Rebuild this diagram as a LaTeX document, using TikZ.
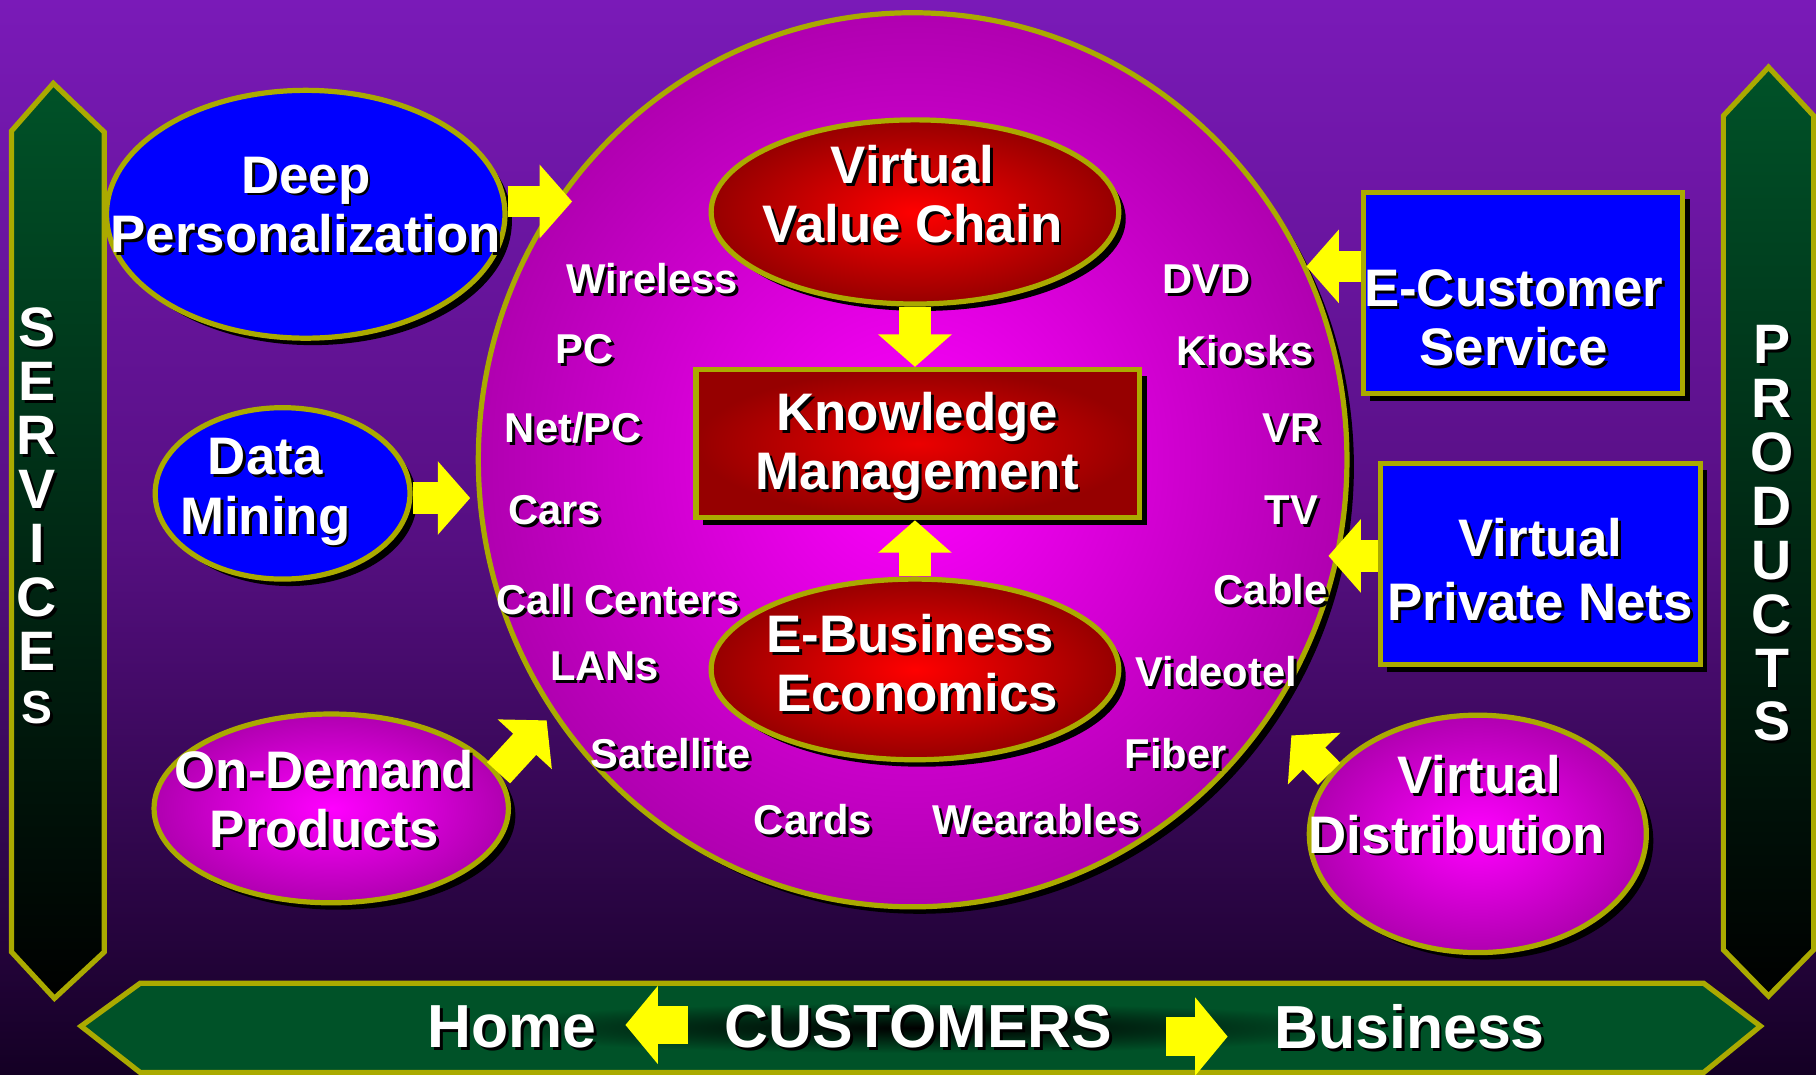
\documentclass[tikz,border=0pt]{standalone}
\usepackage{fontspec}
\setmainfont{Liberation Sans}
\usetikzlibrary{shapes.geometric,arrows.meta,shadows}

\definecolor{olv}{RGB}{170,170,0}
\definecolor{bgtop}{RGB}{122,26,184}
\definecolor{bgmid}{RGB}{86,15,130}
\definecolor{bgbot}{RGB}{20,0,36}
\definecolor{grn}{RGB}{0,82,40}
\definecolor{mag}{RGB}{255,0,255}
\definecolor{magout}{RGB}{176,0,176}
\definecolor{redin}{RGB}{255,0,0}
\definecolor{redout}{RGB}{150,0,0}
\definecolor{yel}{RGB}{255,255,0}

\pgfdeclareradialshading{barshade}{\pgfpoint{0bp}{0bp}}{color(0bp)=(black); color(14bp)=(grn); color(50bp)=(grn)}

\newcommand\txtsh[1]{\leavevmode\rlap{\kern2.5pt\raisebox{-2.5pt}{\textcolor{black}{#1}}}#1}

\begin{document}
\begin{tikzpicture}[x=1pt,y=-1pt,
  bord/.style={draw=olv,line width=4.5pt},
  shad/.style={drop shadow={shadow xshift=6pt,shadow yshift=-6pt,fill=black,opacity=1}},
  lblbig/.style={font=\fontsize{45.6pt}{51pt}\selectfont\bfseries,text=white,align=center,inner sep=0pt},
  lblsmall/.style={font=\fontsize{36pt}{40pt}\selectfont\bfseries,text=white,inner sep=0pt},
  lblbar/.style={font=\fontsize{52.5pt}{56pt}\selectfont\bfseries,text=white,inner sep=0pt},
  lblcol/.style={font=\fontsize{48pt}{46.5pt}\selectfont\bfseries,text=white,align=center,inner sep=0pt},
  blk/.style={draw=yel,line width=27pt,-{Triangle[length=28pt,width=62pt]}},
  blkbar/.style={draw=yel,line width=33pt,-{Triangle[length=28pt,width=66pt]}},
  redell/.style={ellipse,bord,shad,shade,inner color=redin,outer color=redout,inner sep=0pt},
  magell/.style={ellipse,bord,shad,shade,inner color=mag,outer color=magout,inner sep=0pt},
  blueell/.style={ellipse,bord,shad,fill=blue,inner sep=0pt},
  bluebox/.style={rectangle,bord,shad,fill=blue,inner sep=0pt}
]
\useasboundingbox (0,0) rectangle (1568,928);
\shade[top color=bgtop, bottom color=bgbot, middle color=bgmid] (0,0) rectangle (1568,928);

% side and bottom bars
\draw[bord, top color=grn, bottom color=black, line join=miter] (10,113) -- (46,72) -- (90,114) -- (90,822) -- (47,862) -- (10,822) -- cycle;
\draw[bord, top color=grn, bottom color=black, line join=miter] (1488,100) -- (1527,58) -- (1566,100) -- (1566,820) -- (1527,860) -- (1488,820) -- cycle;
\draw[bord, shade, shading=barshade, line join=miter] (70,886) -- (121,849) -- (1471,849) -- (1520,886) -- (1471,926) -- (121,926) -- cycle;

% hub circle
\node[magell, minimum width=750pt, minimum height=772pt] (hub) at (788,397) {};

% outer shapes
\node[blueell, minimum width=344pt, minimum height=214pt] (dp) at (264,185) {};
\node[blueell, minimum width=220pt, minimum height=148pt] (dm) at (244,426) {};
\node[magell, minimum width=306pt, minimum height=163pt] (od) at (286,698) {};
\node[bluebox, minimum width=276pt, minimum height=174pt] (ecs) at (1315,253) {};
\node[bluebox, minimum width=276pt, minimum height=174pt] (vpn) at (1330,487) {};
\node[magell, minimum width=291pt, minimum height=205pt] (vd) at (1276,720) {};

% inner shapes
\node[redell, minimum width=352pt, minimum height=159pt] (vvc) at (790,183) {};
\node[rectangle, bord, shad, shade, inner color=red!92!black, outer color=redout, minimum width=383pt, minimum height=128pt, inner sep=0pt] (km) at (792.5,383) {};
\node[redell, minimum width=352pt, minimum height=156pt] (eb) at (790,578) {};

% arrows
\coordinate (t1) at (494,174);
\coordinate (t2) at (406,430);
\coordinate (t3) at (472,622);
\coordinate (t6) at (1128,230);
\coordinate (t7) at (1147,480);
\coordinate (t8) at (1115,635);
\draw[blk] (dp.east |- t1) -- (t1);
\draw[blk] (dm.east |- t2) -- (t2);
\draw[blk] (od.12) -- (t3);
\draw[blk] (vvc.south) -- (vvc.south |- km.north);
\draw[blk] (eb.north) -- (eb.north |- km.south);
\draw[blk] (ecs.west |- t6) -- (t6);
\draw[blk] (vpn.west |- t7) -- (t7);
\draw[blk] (vd.158) -- (t8);
\coordinate (h1) at (594,885);
\coordinate (h2) at (540,885);
\coordinate (b1) at (1007,895);
\coordinate (b2) at (1060,895);
\draw[blkbar] (h1) -- (h2);
\draw[blkbar] (b1) -- (b2);

% big labels
\node[lblbig] (dpt) at (264,178) {\txtsh{Deep}\\\txtsh{Personalization}};
\node[lblbig] (dmt) at (229,426) {\txtsh{Data}\\\txtsh{Mining}};
\node[lblbig] (odt) at (280,691) {\txtsh{On-Demand}\\\txtsh{Products}};
\node[lblbig] (vvct) at (788,169) {\txtsh{Virtual}\\\txtsh{Value Chain}};
\node[lblbig] (kmt) at (792,387) {\txtsh{Knowledge}\\\txtsh{Management}};
\node[lblbig] (ebt) at (792,574) {\hspace*{-12pt}\txtsh{E-Business}\\\txtsh{Economics}};
\node[lblbig] (ecst) at (1307,276) {\txtsh{E-Customer}\\\txtsh{Service}};
\node[lblbig, font=\fontsize{45.6pt}{55pt}\selectfont\bfseries] (vpnt) at (1330,493) {\txtsh{Virtual}\\\txtsh{Private Nets}};
\node[lblbig] (vdt) at (1258,696) {\hspace*{38pt}\txtsh{Virtual}\\\txtsh{Distribution}};

% small labels
\node[lblsmall] (l1) at (563,242) {\txtsh{Wireless}};
\node[lblsmall] (l2) at (505,303) {\txtsh{PC}};
\node[lblsmall] (l3) at (495,371) {\txtsh{Net/PC}};
\node[lblsmall] (l4) at (479,442) {\txtsh{Cars}};
\node[lblsmall] (l5) at (534,519) {\txtsh{Call Centers}};
\node[lblsmall] (l6) at (522,577) {\txtsh{LANs}};
\node[lblsmall] (l7) at (579,652) {\txtsh{Satellite}};
\node[lblsmall] (l8) at (702,709) {\txtsh{Cards}};
\node[lblsmall] (l9) at (895,709) {\txtsh{Wearables}};
\node[lblsmall] (r1) at (1042,242) {\txtsh{DVD}};
\node[lblsmall] (r2) at (1075,304) {\txtsh{Kiosks}};
\node[lblsmall] (r3) at (1115,371) {\txtsh{VR}};
\node[lblsmall] (r4) at (1115,442) {\txtsh{TV}};
\node[lblsmall] (r5) at (1097,510) {\txtsh{Cable}};
\node[lblsmall] (r6) at (1050,581) {\txtsh{Videotel}};
\node[lblsmall] (r7) at (1015,652) {\txtsh{Fiber}};

% bar labels
\node[lblbar] (home) at (442,888) {\txtsh{Home}};
\node[lblbar] (cust) at (793,888) {\txtsh{CUSTOMERS}};
\node[lblbar] (bus) at (1217,888) {\txtsh{Business}};
\node[lblcol] (srv) at (32,447) {\txtsh{S}\\\txtsh{E}\\\txtsh{R}\\\txtsh{V}\\\txtsh{I}\\\txtsh{C}\\\txtsh{E}\\{\fontsize{40pt}{46.5pt}\selectfont\txtsh{S}}};
\node[lblcol] (prd) at (1530,462) {\txtsh{P}\\\txtsh{R}\\\txtsh{O}\\\txtsh{D}\\\txtsh{U}\\\txtsh{C}\\\txtsh{T}\\\txtsh{S}};
\end{tikzpicture}
\end{document}
